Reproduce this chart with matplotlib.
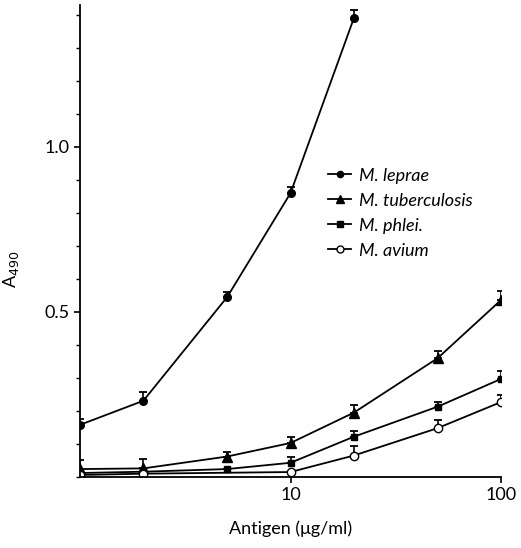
import numpy as np
import matplotlib
matplotlib.use("Agg")
import matplotlib.pyplot as plt
from matplotlib.lines import Line2D
from matplotlib.ticker import MultipleLocator, NullLocator, FixedLocator

plt.rcParams['font.family'] = ['Lato', 'DejaVu Sans']

# antigen concentration (ug/ml)
x_full = [1, 2, 5, 10, 20, 50, 100]

# M. leprae
x_leprae = [1, 2, 5, 10, 20]
y_leprae = [0.158, 0.231, 0.545, 0.86, 1.39]
e_leprae = [0.018, 0.027, 0.016, 0.02, 0.025]

# M. tuberculosis
y_tb = [0.024, 0.026, 0.062, 0.103, 0.195, 0.36, 0.536]
e_tb = [0.026, 0.028, 0.014, 0.018, 0.022, 0.022, 0.026]

# M. phlei
y_phlei = [0.012, 0.016, 0.024, 0.043, 0.122, 0.213, 0.297]
e_phlei = [0.0, 0.0, 0.0, 0.019, 0.018, 0.015, 0.025]

# M. avium
x_avium = [1, 2, 10, 20, 50, 100]
y_avium = [0.006, 0.01, 0.015, 0.065, 0.148, 0.227]
e_avium = [0.0, 0.0, 0.0, 0.03, 0.026, 0.021]

labels = ['M. leprae', 'M. tuberculosis', 'M. phlei.', 'M. avium']

fig = plt.figure(figsize=(5.21, 5.48), dpi=100)
ax = fig.add_axes([0.1536, 0.1296, 0.808, 0.8613])

kw = dict(color='black', lw=1.3, capsize=3, elinewidth=1.2, capthick=1.3)

series = [
    (x_leprae, y_leprae, e_leprae, 'o', 5.5, 'black'),
    (x_full, y_tb, e_tb, '^', 7, 'black'),
    (x_full, y_phlei, e_phlei, 's', 5, 'black'),
    (x_avium, y_avium, e_avium, 'o', 6, 'white'),
]

handles = []
for (xs, ys, es, m, ms, fc), lab in zip(series, labels):
    ax.errorbar(xs, ys, yerr=[np.zeros(len(es)), es], marker=m, ms=ms,
                mfc=fc, **kw)
    handles.append(Line2D([], [], color='black', lw=1.3, marker=m,
                          ms=ms - 1, mfc=fc, label=lab))

ax.set_xscale('log')
ax.set_xlim(1, 100)
ax.set_ylim(0, 1.43)

ax.xaxis.set_major_locator(FixedLocator([10, 100]))
ax.set_xticklabels(['10', '100'])
ax.xaxis.set_minor_locator(NullLocator())

ax.yaxis.set_major_locator(FixedLocator([0.5, 1.0]))
ax.set_yticklabels(['0.5', '1.0'])
ax.yaxis.set_minor_locator(MultipleLocator(0.1))

ax.tick_params(axis='both', which='major', direction='out', length=4, width=1.2,
               labelsize=13)
ax.tick_params(axis='y', which='minor', direction='out', length=3, width=1.0)

ax.spines['top'].set_visible(False)
ax.spines['right'].set_visible(False)
ax.spines['left'].set_linewidth(1.3)
ax.spines['bottom'].set_linewidth(1.3)

ax.set_xlabel('Antigen (μg/ml)', fontsize=13, labelpad=12)
ax.set_ylabel('A$_{490}$', fontsize=13)
ax.yaxis.set_label_coords(-0.14, 0.44)

leg = ax.legend(handles=handles, loc='upper left', bbox_to_anchor=(0.55, 0.69),
                frameon=False, fontsize=13, handlelength=1.3, handletextpad=0.4,
                labelspacing=0.5)
for t in leg.get_texts():
    t.set_fontstyle('italic')

fig.savefig('out.png', dpi=100)
